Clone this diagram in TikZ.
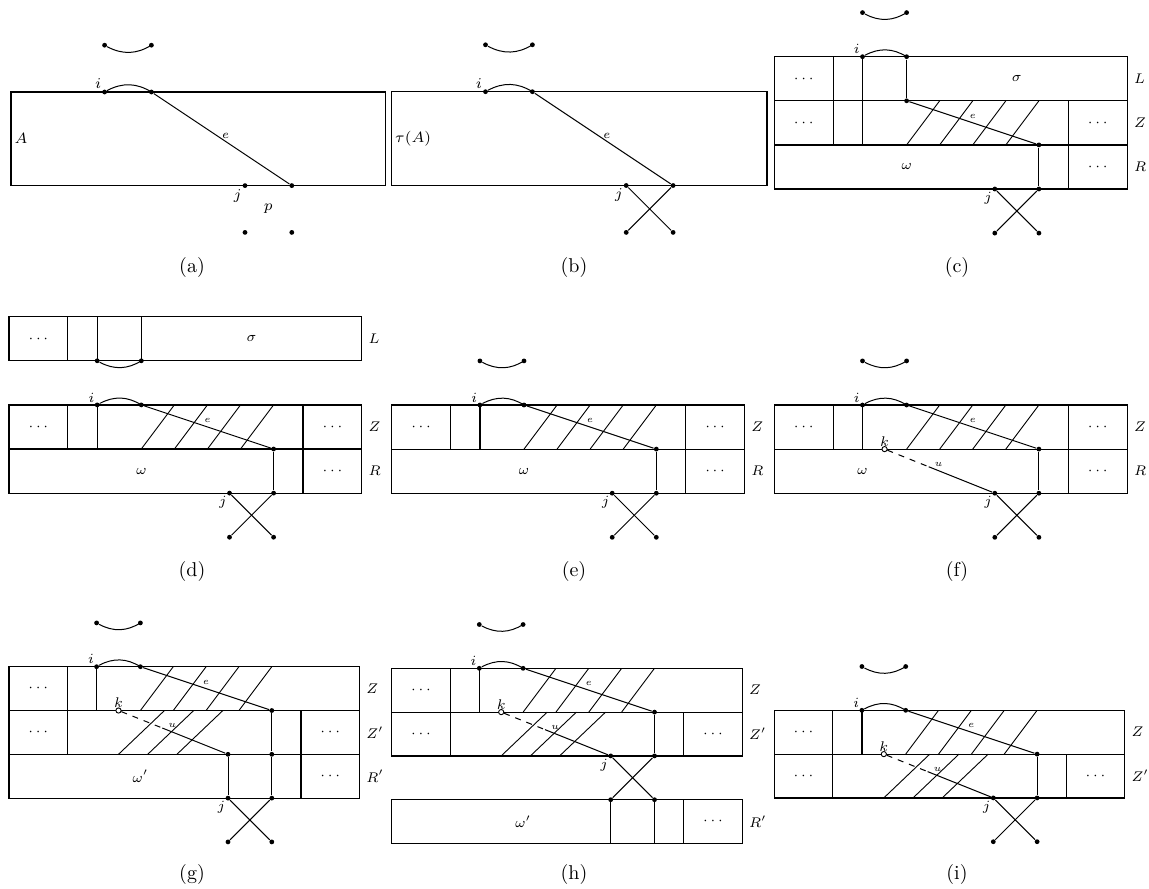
\documentclass[tikz,border=0pt]{standalone}
\usepackage{fix-cm}
\usetikzlibrary{calc}

\tikzset{
    vtx/.style={
        circle,
        fill,
        inner sep=0pt,
        minimum size=2.4pt
    },
    hole/.style={
        circle,
        draw,
        fill=white,
        inner sep=0pt,
        minimum size=2.6pt,
        line width=0.45pt
    },
    lab/.style={font=\fontsize{7.5}{8}\selectfont, inner sep=1.5pt},
    elaba/.style={font=\fontsize{6}{7}\selectfont, inner sep=1.2pt},
    tag/.style={font=\fontsize{7}{8}\selectfont, inner sep=1.2pt},
    elab/.style={font=\fontsize{4.7}{5}\selectfont, inner sep=1pt},
    subcap/.style={font=\normalsize},
    layer/.style={line width=0.6pt},
    hatch/.style={line width=0.45pt}
}

\begin{document}
\begin{tikzpicture}[x=0.5pt, y=-0.5pt, line width=0.5pt]
\useasboundingbox (0,0) rectangle (1149,888);

% (a)
\begin{scope}[shift={(11,92)}, x=23.4pt, y=23.4pt, name prefix=a-]
    \draw[layer] (0,0) rectangle (8,-2);
    \path
        node[vtx] at (2,1) (t1) {}
        node[vtx] at (3,1) (t2) {}
        node[vtx] at (2,0) (i) {}
        node[vtx] at (3,0) (f) {}
        node[vtx] at (5,-2) (j) {}
        node[vtx] at (6,-2) (g) {}
        node[vtx] at (5,-3) (b1) {}
        node[vtx] at (6,-3) (b2) {};
    \path
        (t1) edge[bend right=30] (t2)
        (i) edge[bend left=30] (f)
        (f) edge node[elaba, above, pos=0.53] (e) {$e$} (g);
    \path
        node[lab, above left] at (i) (il) {$i$}
        node[lab, below left] at (j) (jl) {$j$}
        node[lab] at (5.5,-2.5) (p) {$p$}
        node[lab, right] at (0,-1) (A) {$A$};
\end{scope}

% (b)
\begin{scope}[shift={(391.7,91.7)}, x=23.45pt, y=23.45pt, name prefix=b-]
    \draw[layer] (0,0) rectangle (8,-2);
    \path
        node[vtx] at (2,1) (t1) {}
        node[vtx] at (3,1) (t2) {}
        node[vtx] at (2,0) (i) {}
        node[vtx] at (3,0) (f) {}
        node[vtx] at (5,-2) (j) {}
        node[vtx] at (6,-2) (g) {}
        node[vtx] at (5,-3) (b1) {}
        node[vtx] at (6,-3) (b2) {};
    \path
        (t1) edge[bend right=30] (t2)
        (i) edge[bend left=30] (f)
        (f) edge node[elaba, above, pos=0.53] (e) {$e$} (g)
        (j) edge (b2)
        (g) edge (b1);
    \path
        node[lab, above left] at (i) (il) {$i$}
        node[lab, below left] at (j) (jl) {$j$}
        node[lab, right] at (0,-1) (A) {$\tau(A)$};
\end{scope}

% (c)
\begin{scope}[shift={(774.3,56.7)}, x=22.05pt, y=22.05pt, name prefix=c-]
    \draw[layer] (0,0) rectangle (8,-3);
    \draw[layer] (0,-1) -- (8,-1) (0,-2) -- (8,-2);
    \draw[layer] (4/3,0) -- (4/3,-2) (2,0) -- (2,-2) (20/3,-1) -- (20/3,-3);
    \foreach \x in {3,3.75,4.5,5.25}
        \draw[hatch] (\x,-2) -- ++(0.75,1);
    \path
        node[vtx] at (2,1) (t1) {}
        node[vtx] at (3,1) (t2) {}
        node[vtx] at (2,0) (i) {}
        node[vtx] at (3,0) (f) {}
        node[vtx] at (3,-1) (f2) {}
        node[vtx] at (6,-2) (g) {}
        node[vtx] at (6,-3) (g2) {}
        node[vtx] at (5,-3) (j) {}
        node[vtx] at (5,-4) (b1) {}
        node[vtx] at (6,-4) (b2) {};
    \path
        (t1) edge[bend right=30] (t2)
        (i) edge[bend left=30] (f)
        (f) edge (f2)
        (f2) edge node[elab, above=1pt] (e) {$e$} (g)
        (g) edge (g2)
        (j) edge (b2)
        (g2) edge (b1);
    \path
        node[tag, above left] at (i) (il) {$i$}
        node[tag, below left] at (j) (jl) {$j$}
        node[tag] at (2/3,-0.5) (d1) {$\cdots$}
        node[tag] at (2/3,-1.5) (d2) {$\cdots$}
        node[tag] at (22/3,-1.5) (d3) {$\cdots$}
        node[tag] at (22/3,-2.5) (d4) {$\cdots$}
        node[tag] at (5.5,-0.5) (s) {$\sigma$}
        node[tag] at (3,-2.5) (w) {$\omega$}
        node[tag, right=2pt] at (8,-0.5) (L) {$L$}
        node[tag, right=2pt] at (8,-1.5) (Z) {$Z$}
        node[tag, right=2pt] at (8,-2.5) (R) {$R$};
\end{scope}

% (d)
\begin{scope}[shift={(9,316.7)}, x=22.05pt, y=22.05pt, name prefix=d-]
    \draw[layer] (0,0) rectangle (8,-1);
    \draw[layer] (4/3,0) -- (4/3,-1) (2,0) -- (2,-1) (3,0) -- (3,-1);
    \draw[layer] (0,-2) rectangle (8,-4);
    \draw[layer] (0,-3) -- (8,-3);
    \draw[layer] (4/3,-2) -- (4/3,-3) (2,-2) -- (2,-3) (20/3,-2) -- (20/3,-4);
    \foreach \x in {3,3.75,4.5,5.25}
        \draw[hatch] (\x,-3) -- ++(0.75,1);
    \path
        node[vtx] at (2,-1) (l1) {}
        node[vtx] at (3,-1) (l2) {}
        node[vtx] at (2,-2) (i) {}
        node[vtx] at (3,-2) (f) {}
        node[vtx] at (6,-3) (g) {}
        node[vtx] at (6,-4) (g2) {}
        node[vtx] at (5,-4) (j) {}
        node[vtx] at (5,-5) (b1) {}
        node[vtx] at (6,-5) (b2) {};
    \path
        (l1) edge[bend right=30] (l2)
        (i) edge[bend left=30] (f)
        (f) edge node[elab, above=1pt] (e) {$e$} (g)
        (g) edge (g2)
        (j) edge (b2)
        (g2) edge (b1);
    \path
        node[tag, above left] at (i) (il) {$i$}
        node[tag, below left] at (j) (jl) {$j$}
        node[tag] at (2/3,-0.5) (d0) {$\cdots$}
        node[tag] at (2/3,-2.5) (d1) {$\cdots$}
        node[tag] at (22/3,-2.5) (d2) {$\cdots$}
        node[tag] at (22/3,-3.5) (d3) {$\cdots$}
        node[tag] at (5.5,-0.5) (s) {$\sigma$}
        node[tag] at (3,-3.5) (w) {$\omega$}
        node[tag, right=2pt] at (8,-0.5) (L) {$L$}
        node[tag, right=2pt] at (8,-2.5) (Z) {$Z$}
        node[tag, right=2pt] at (8,-3.5) (R) {$R$};
\end{scope}

% (e)
\begin{scope}[shift={(391.7,405)}, x=22.05pt, y=22.05pt, name prefix=e-]
    \draw[layer] (0,0) rectangle (8,-2);
    \draw[layer] (0,-1) -- (8,-1);
    \draw[layer] (4/3,0) -- (4/3,-1) (2,0) -- (2,-1) (20/3,0) -- (20/3,-2);
    \foreach \x in {3,3.75,4.5,5.25}
        \draw[hatch] (\x,-1) -- ++(0.75,1);
    \path
        node[vtx] at (2,1) (t1) {}
        node[vtx] at (3,1) (t2) {}
        node[vtx] at (2,0) (i) {}
        node[vtx] at (3,0) (f) {}
        node[vtx] at (6,-1) (g) {}
        node[vtx] at (6,-2) (g2) {}
        node[vtx] at (5,-2) (j) {}
        node[vtx] at (5,-3) (b1) {}
        node[vtx] at (6,-3) (b2) {};
    \path
        (t1) edge[bend right=30] (t2)
        (i) edge[bend left=30] (f)
        (f) edge node[elab, above=1pt] (e) {$e$} (g)
        (g) edge (g2)
        (j) edge (b2)
        (g2) edge (b1);
    \path
        node[tag, above left] at (i) (il) {$i$}
        node[tag, below left] at (j) (jl) {$j$}
        node[tag] at (2/3,-0.5) (d1) {$\cdots$}
        node[tag] at (22/3,-0.5) (d2) {$\cdots$}
        node[tag] at (22/3,-1.5) (d3) {$\cdots$}
        node[tag] at (3,-1.5) (w) {$\omega$}
        node[tag, right=2pt] at (8,-0.5) (Z) {$Z$}
        node[tag, right=2pt] at (8,-1.5) (R) {$R$};
\end{scope}

% (f)
\begin{scope}[shift={(774.3,405)}, x=22.05pt, y=22.05pt, name prefix=f-]
    \draw[layer] (0,0) rectangle (8,-2);
    \draw[layer] (0,-1) -- (8,-1);
    \draw[layer] (4/3,0) -- (4/3,-1) (2,0) -- (2,-1) (20/3,0) -- (20/3,-2);
    \foreach \x in {3,3.75,4.5,5.25}
        \draw[hatch] (\x,-1) -- ++(0.75,1);
    \path
        node[vtx] at (2,1) (t1) {}
        node[vtx] at (3,1) (t2) {}
        node[vtx] at (2,0) (i) {}
        node[vtx] at (3,0) (f) {}
        node[vtx] at (6,-1) (g) {}
        node[vtx] at (6,-2) (g2) {}
        node[vtx] at (5,-2) (j) {}
        node[vtx] at (5,-3) (b1) {}
        node[vtx] at (6,-3) (b2) {}
        node[hole] at (2.5,-1) (k) {};
    \coordinate (m) at ($(k)!0.4!(j)$);
    \path
        (t1) edge[bend right=30] (t2)
        (i) edge[bend left=30] (f)
        (f) edge node[elab, above=1pt] (e) {$e$} (g)
        (g) edge (g2)
        (j) edge (b2)
        (g2) edge (b1)
        (k) edge[dashed] (m)
        (m) edge (j);
    \path (k) -- (j) node[elab, above=1pt, pos=0.49] (u) {$u$};
    \path
        node[tag, above left] at (i) (il) {$i$}
        node[tag, below left] at (j) (jl) {$j$}
        node[tag, above=0pt] at (k) (kl) {$k$}
        node[tag] at (2/3,-0.5) (d1) {$\cdots$}
        node[tag] at (22/3,-0.5) (d2) {$\cdots$}
        node[tag] at (22/3,-1.5) (d3) {$\cdots$}
        node[tag] at (2,-1.5) (w) {$\omega$}
        node[tag, right=2pt] at (8,-0.5) (Z) {$Z$}
        node[tag, right=2pt] at (8,-1.5) (R) {$R$};
\end{scope}

% (g)
\begin{scope}[shift={(9,666.7)}, x=21.9pt, y=21.9pt, name prefix=g-]
    \draw[layer] (0,0) rectangle (8,-3);
    \draw[layer] (0,-1) -- (8,-1) (0,-2) -- (8,-2);
    \draw[layer] (4/3,0) -- (4/3,-2) (2,0) -- (2,-1) (20/3,-1) -- (20/3,-3);
    \foreach \x in {3,3.75,4.5,5.25}
        \draw[hatch] (\x,-1) -- ++(0.75,1);
    \foreach \x in {2.5,3.1667,3.8333}
        \draw[hatch] (\x,-2) -- ++(1.05,1);
    \path
        node[vtx] at (2,1) (t1) {}
        node[vtx] at (3,1) (t2) {}
        node[vtx] at (2,0) (i) {}
        node[vtx] at (3,0) (f) {}
        node[vtx] at (6,-1) (g) {}
        node[vtx] at (6,-2) (g2) {}
        node[vtx] at (6,-3) (g3) {}
        node[vtx] at (5,-2) (j2) {}
        node[vtx] at (5,-3) (j) {}
        node[vtx] at (5,-4) (b1) {}
        node[vtx] at (6,-4) (b2) {}
        node[hole] at (2.5,-1) (k) {};
    \coordinate (m) at ($(k)!0.4!(j2)$);
    \path
        (t1) edge[bend right=30] (t2)
        (i) edge[bend left=30] (f)
        (f) edge node[elab, above=1pt] (e) {$e$} (g)
        (g) edge (g2)
        (g2) edge (g3)
        (j2) edge (j)
        (j) edge (b2)
        (g3) edge (b1)
        (k) edge[dashed] (m)
        (m) edge (j2);
    \path (k) -- (j2) node[elab, above=1pt, pos=0.49] (u) {$u$};
    \path
        node[tag, above left] at (i) (il) {$i$}
        node[tag, below left] at (j) (jl) {$j$}
        node[tag, above=0pt] at (k) (kl) {$k$}
        node[tag] at (2/3,-0.5) (d1) {$\cdots$}
        node[tag] at (2/3,-1.5) (d2) {$\cdots$}
        node[tag] at (22/3,-1.5) (d3) {$\cdots$}
        node[tag] at (22/3,-2.5) (d4) {$\cdots$}
        node[tag] at (3,-2.5) (w) {$\omega'$}
        node[tag, right=2pt] at (8,-0.5) (Z) {$Z$}
        node[tag, right=2pt] at (8,-1.5) (Z2) {$Z'$}
        node[tag, right=2pt] at (8,-2.5) (R) {$R'$};
\end{scope}

% (h)
\begin{scope}[shift={(391.7,668.3)}, x=21.9pt, y=21.9pt, name prefix=h-]
    \draw[layer] (0,0) rectangle (8,-2);
    \draw[layer] (0,-1) -- (8,-1);
    \draw[layer] (4/3,0) -- (4/3,-2) (2,0) -- (2,-1) (20/3,-1) -- (20/3,-2);
    \draw[layer] (0,-3) rectangle (8,-4);
    \draw[layer] (5,-3) -- (5,-4) (6,-3) -- (6,-4) (20/3,-3) -- (20/3,-4);
    \foreach \x in {3,3.75,4.5,5.25}
        \draw[hatch] (\x,-1) -- ++(0.75,1);
    \foreach \x in {2.5,3.1667,3.8333}
        \draw[hatch] (\x,-2) -- ++(1.05,1);
    \path
        node[vtx] at (2,1) (t1) {}
        node[vtx] at (3,1) (t2) {}
        node[vtx] at (2,0) (i) {}
        node[vtx] at (3,0) (f) {}
        node[vtx] at (6,-1) (g) {}
        node[vtx] at (6,-2) (g2) {}
        node[vtx] at (5,-2) (j) {}
        node[vtx] at (5,-3) (r1) {}
        node[vtx] at (6,-3) (r2) {}
        node[hole] at (2.5,-1) (k) {};
    \coordinate (m) at ($(k)!0.4!(j)$);
    \path
        (t1) edge[bend right=30] (t2)
        (i) edge[bend left=30] (f)
        (f) edge node[elab, above=1pt] (e) {$e$} (g)
        (g) edge (g2)
        (j) edge (r2)
        (g2) edge (r1)
        (k) edge[dashed] (m)
        (m) edge (j);
    \path (k) -- (j) node[elab, above=1pt, pos=0.49] (u) {$u$};
    \path
        node[tag, above left] at (i) (il) {$i$}
        node[tag, below left] at (j) (jl) {$j$}
        node[tag, above=0pt] at (k) (kl) {$k$}
        node[tag] at (2/3,-0.5) (d1) {$\cdots$}
        node[tag] at (2/3,-1.5) (d2) {$\cdots$}
        node[tag] at (22/3,-1.5) (d3) {$\cdots$}
        node[tag] at (22/3,-3.5) (d4) {$\cdots$}
        node[tag] at (3,-3.5) (w) {$\omega'$}
        node[tag, right=2pt] at (8,-0.5) (Z) {$Z$}
        node[tag, right=2pt] at (8,-1.5) (Z2) {$Z'$}
        node[tag, right=2pt] at (8,-3.5) (R) {$R'$};
\end{scope}

% (i)
\begin{scope}[shift={(774.3,710.3)}, x=21.9pt, y=21.9pt, name prefix=i-]
    \draw[layer] (0,0) rectangle (8,-2);
    \draw[layer] (0,-1) -- (8,-1);
    \draw[layer] (4/3,0) -- (4/3,-2) (2,0) -- (2,-1) (20/3,-1) -- (20/3,-2);
    \foreach \x in {3,3.75,4.5,5.25}
        \draw[hatch] (\x,-1) -- ++(0.75,1);
    \foreach \x in {2.5,3.1667,3.8333}
        \draw[hatch] (\x,-2) -- ++(1.05,1);
    \path
        node[vtx] at (2,1) (t1) {}
        node[vtx] at (3,1) (t2) {}
        node[vtx] at (2,0) (i) {}
        node[vtx] at (3,0) (f) {}
        node[vtx] at (6,-1) (g) {}
        node[vtx] at (6,-2) (g2) {}
        node[vtx] at (5,-2) (j) {}
        node[vtx] at (5,-3) (b1) {}
        node[vtx] at (6,-3) (b2) {}
        node[hole] at (2.5,-1) (k) {};
    \coordinate (m) at ($(k)!0.4!(j)$);
    \path
        (t1) edge[bend right=30] (t2)
        (i) edge[bend left=30] (f)
        (f) edge node[elab, above=1pt] (e) {$e$} (g)
        (g) edge (g2)
        (j) edge (b2)
        (g2) edge (b1)
        (k) edge[dashed] (m)
        (m) edge (j);
    \path (k) -- (j) node[elab, above=1pt, pos=0.49] (u) {$u$};
    \path
        node[tag, above left] at (i) (il) {$i$}
        node[tag, below left] at (j) (jl) {$j$}
        node[tag, above=0pt] at (k) (kl) {$k$}
        node[tag] at (2/3,-0.5) (d1) {$\cdots$}
        node[tag] at (2/3,-1.5) (d2) {$\cdots$}
        node[tag] at (22/3,-1.5) (d3) {$\cdots$}
        node[tag, right=2pt] at (8,-0.5) (Z) {$Z$}
        node[tag, right=2pt] at (8,-1.5) (Z2) {$Z'$};
\end{scope}

% captions
\path
    node[subcap] at (192,267) (ca) {(a)}
    node[subcap] at (574,267) (cb) {(b)}
    node[subcap] at (957,267) (cc) {(c)}
    node[subcap] at (192,571) (cd) {(d)}
    node[subcap] at (574,571) (ce) {(e)}
    node[subcap] at (957,571) (cf) {(f)}
    node[subcap] at (192,874) (cg) {(g)}
    node[subcap] at (574,874) (ch) {(h)}
    node[subcap] at (957,874) (ci) {(i)};
\end{tikzpicture}
\end{document}
